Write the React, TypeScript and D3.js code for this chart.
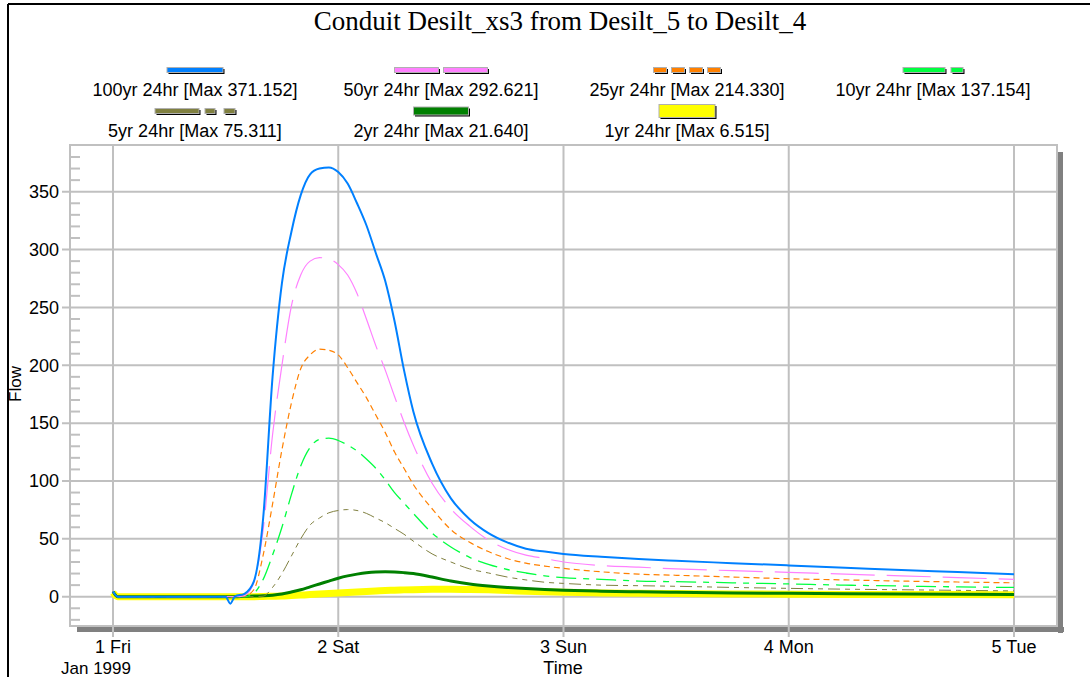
import React from 'react';
import * as d3 from 'd3';

// time axis in hours from 1 Jan 1999 00:00
const hours = [0, 0.5, 2, 6, 11, 12, 12.5, 13, 14, 15, 16, 17, 18, 19, 20, 21, 22, 23, 24, 25, 26, 27, 28, 29, 30, 31, 32, 34, 36, 38, 40, 42, 44, 46, 48, 52, 56, 60, 66, 72, 78, 84, 90, 96];

const flow100 = [4.5, 0, 0, 0, 0, 0, -6, 0.3, 2.5, 13, 68, 190, 271, 315, 347, 365, 370, 371, 367, 357, 340, 321, 297, 273, 238, 196, 160, 115, 85, 67, 55, 47, 41.5, 39, 37, 34.5, 32.5, 31, 29, 27, 25, 23, 21.3, 19.5];
const flow50 = [4.5, 0, 0, 0, 0, 0, 0, 0, 1, 12, 58, 140, 200, 251, 278, 290, 293, 292, 287, 278, 262, 240, 217, 196, 173, 151, 131, 98, 76, 61, 49, 41, 36, 33, 30, 27, 25.5, 24, 22.5, 21, 19.5, 18, 16.5, 15];
const flow25 = [4.5, 0, 0, 0, 0, 0, 0, 0, 0.5, 6, 36, 80, 127, 167, 197, 209, 214, 213, 209, 198, 185, 172, 157, 142, 125, 111, 97, 76, 58, 47, 39, 33, 29, 26.5, 24.5, 21.5, 19.5, 18.5, 17, 15.5, 14.5, 13.5, 12.7, 12];
const flow10 = [4.5, 0, 0, 0, 0, 0, 0, 0, 0, 3, 15, 36, 60, 88, 113, 129, 136, 137, 135, 131, 126, 119, 111, 101, 90, 81, 72, 55, 43, 34, 28, 23.5, 20.5, 18, 16.5, 15, 13.5, 13, 12, 11, 10, 9.2, 8.5, 8];
const flow5 = [4.5, 0, 0, 0, 0, 0, 0, 0, 0, 0, 0.5, 8, 20, 35, 50, 62, 68, 72.5, 74.5, 75.3, 74.5, 72, 68, 64, 59, 54, 48, 37, 30, 24, 20.5, 17, 14.5, 12.5, 11.5, 10, 9.5, 9, 8, 7.2, 6.5, 6, 5.5, 5];
const flow2 = [4.5, 0, 0, 0, 0, 0, 0, 0, 0.3, 0.5, 0.8, 1.3, 2.3, 4, 6, 8.5, 11, 13.5, 16, 18, 19.5, 20.7, 21.4, 21.6, 21.4, 20.8, 20, 17, 13.5, 11, 9.3, 8, 7, 6.2, 5.6, 4.8, 4.2, 3.8, 3.3, 2.9, 2.6, 2.4, 2.2, 2];
const flow1 = [3.5, 0, 0, 0, 0, 0, 0, 0, 0, 0, 0.2, 0.4, 0.6, 1, 1.4, 1.8, 2.3, 2.7, 3.2, 3.6, 4.1, 4.5, 4.9, 5.3, 5.6, 5.9, 6.1, 6.4, 6.5, 6.3, 5.9, 5.3, 4.7, 4.2, 3.8, 3.3, 2.9, 2.7, 2.4, 2.2, 2, 1.9, 1.8, 1.7];

const seriesNames = ['100yr 24hr', '50yr 24hr', '25yr 24hr', '10yr 24hr', '5yr 24hr', '2yr 24hr', '1yr 24hr'];
const seriesMax = ['371.152', '292.621', '214.330', '137.154', '75.311', '21.640', '6.515'];
const seriesValues = [flow100, flow50, flow25, flow10, flow5, flow2, flow1];

const yTicks = [0, 50, 100, 150, 200, 250, 300, 350];
const xTickLabels = ['1 Fri', '2 Sat', '3 Sun', '4 Mon', '5 Tue'];

// styles per series (same order as names)
const styles = [
  { color: '#0080ff', width: 2, dash: null, swatch: [56], h: 5 },
  { color: '#ff80ff', width: 1.2, dash: '44,12', swatch: [44, 5, 44], h: 5 },
  { color: '#ff8000', width: 1.2, dash: '6,4', swatch: [13, 5, 13, 5, 13, 5, 13], h: 5 },
  { color: '#00ff40', width: 1.3, dash: '20,7,6,7', swatch: [42, 6, 12], h: 5 },
  { color: '#808040', width: 1, dash: '12,5,5,5,5,5', swatch: [44, 6, 10, 9, 11], h: 5 },
  { color: '#008000', width: 3, dash: null, swatch: [55], h: 8 },
  { color: '#ffff00', width: 7, dash: null, swatch: [56], h: 13 },
];

const W = 1090;
const H = 677;
const frame = { left: 70, top: 145, right: 1057, bottom: 626 };
const SANS = 'Liberation Sans, Arial, sans-serif';
const GRID = '#c0c0c0';
const FS = 18;

const t0 = Date.UTC(1999, 0, 1);
const x = d3.scaleUtc().domain([new Date(t0), new Date(Date.UTC(1999, 0, 5))]).range([113, 1014]);
const y = d3.scaleLinear().domain([0, 350]).range([596.7, 191.7]);

const legendCols = [195, 441, 687, 933];
const legendRows = [70, 111];
const legendText = [96, 137];

function Swatch({ cx, cy, st }: any) {
  const total = st.swatch.reduce((a: number, b: number) => a + b, 0);
  let pos = cx - total / 2;
  const parts: any[] = [];
  st.swatch.forEach((len: number, i: number) => {
    if (i % 2 === 0) {
      parts.push(
        <g key={i}>
          <rect x={pos + 1.5} y={cy - st.h / 2 + 1.5} width={len} height={st.h} fill="#000" />
          <rect x={pos} y={cy - st.h / 2} width={len} height={st.h} fill={st.color} stroke="#b0b0b0" strokeWidth={1} />
        </g>
      );
    }
    pos += len;
  });
  return <g>{parts}</g>;
}

export default function App() {
  const line = d3
    .line<number>()
    .x((_, i) => x(new Date(t0 + hours[i] * 3600e3)))
    .y((d) => y(d))
    .curve(d3.curveMonotoneX);

  const days = d3.utcDay.range(new Date(t0), new Date(Date.UTC(1999, 0, 5, 1)));
  const minor = d3.range(-20, 391, 10).filter((v) => v % 50 !== 0 && y(v) > frame.top + 3 && y(v) < frame.bottom - 3);
  const drawOrder = [6, 5, 4, 3, 2, 1, 0];

  return (
    <svg width={W} height={H} style={{ position: 'absolute', left: 0, top: 0, background: '#fff' }} fontFamily={SANS}>
      {/* outer window border */}
      <line x1={8} y1={4} x2={W} y2={4} stroke="#000" strokeWidth={2} />
      <line x1={8} y1={4} x2={8} y2={H} stroke="#000" strokeWidth={2} />

      <text x={560} y={30} textAnchor="middle" fontFamily="Liberation Serif, Times New Roman, serif" fontSize={27}>
        Conduit Desilt_xs3 from Desilt_5 to Desilt_4
      </text>

      {/* legend */}
      {seriesNames.map((name, i) => {
        const col = i < 4 ? i : i - 4;
        const row = i < 4 ? 0 : 1;
        return (
          <g key={name}>
            <Swatch cx={legendCols[col]} cy={legendRows[row]} st={styles[i]} />
            <text x={legendCols[col]} y={legendText[row]} textAnchor="middle" fontSize={FS}>
              {`${name} [Max ${seriesMax[i]}]`}
            </text>
          </g>
        );
      })}

      {/* plot frame shadow */}
      <rect x={frame.left + 7} y={frame.bottom + 1} width={frame.right - frame.left} height={5} fill="#808080" />
      <rect x={frame.right + 1} y={frame.top + 7} width={5} height={frame.bottom - frame.top} fill="#808080" />
      <rect x={frame.left} y={frame.top} width={frame.right - frame.left} height={frame.bottom - frame.top} fill="#fff" stroke={GRID} strokeWidth={2} />

      {/* grid */}
      {yTicks.map((v) => (
        <g key={v}>
          <line x1={frame.left - 8} x2={frame.right} y1={y(v)} y2={y(v)} stroke={GRID} strokeWidth={2} />
          <text x={59} y={y(v)} dy="0.35em" textAnchor="end" fontSize={FS}>{v}</text>
        </g>
      ))}
      {minor.map((v) => (
        <line key={v} x1={frame.left + 1} x2={frame.left + 10} y1={y(v)} y2={y(v)} stroke={GRID} strokeWidth={2} />
      ))}
      {days.map((d, i) => (
        <g key={i}>
          <line x1={x(d)} x2={x(d)} y1={frame.top} y2={frame.bottom + 11} stroke={GRID} strokeWidth={2} />
          <text x={x(d)} y={653} textAnchor="middle" fontSize={FS}>{xTickLabels[i]}</text>
        </g>
      ))}

      {/* series */}
      {drawOrder.map((i) => (
        <path
          key={i}
          d={line(seriesValues[i]) || ''}
          fill="none"
          stroke={styles[i].color}
          strokeWidth={styles[i].width}
          strokeDasharray={styles[i].dash || undefined}
          strokeLinejoin="round"
        />
      ))}

      <text x={96} y={674} textAnchor="middle" fontSize={17}>Jan 1999</text>
      <text x={563} y={674} textAnchor="middle" fontSize={FS}>Time</text>
      <text transform="translate(21,384) rotate(-90)" textAnchor="middle" fontSize={17}>Flow</text>
    </svg>
  );
}
